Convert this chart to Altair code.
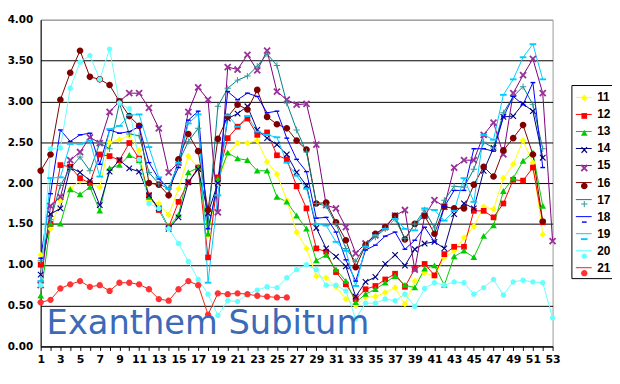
import altair as alt
import pandas as pd

weeks = list(range(1, 54))
label_weeks = list(range(1, 54, 2))
minor_weeks = list(range(2, 53, 2))
series_names = ["11", "12", "13", "14", "15", "16", "17", "18", "19", "20", "21"]
chart_title = "Exanthem Subitum"
y_ticks = [0, 0.5, 1.0, 1.5, 2.0, 2.5, 3.0, 3.5, 4.0]

s11 = [1.12, 1.44, 1.78, 1.93, 2.03, 2.00, 1.95, 2.50, 2.53, 2.58, 2.40, 1.78, 1.75, 1.61, 1.93, 2.33, 2.19, 1.36, 2.00, 2.36,
       2.49, 2.49, 2.52, 2.26, 2.11, 1.79, 1.40, 1.20, 0.86, 0.84, 0.73, 0.58, 0.50, 0.60, 0.61, 0.66, 0.72, 0.52, 0.80, 0.90,
       0.86, 1.09, 1.17, 1.33, 1.47, 1.71, 1.68, 2.06, 2.23, 2.52, 2.25, 1.37, None]
s12 = [1.00, 1.50, 2.22, 2.20, 2.06, 2.00, 2.35, 2.33, 2.28, 2.49, 2.30, 1.85, 1.67, 1.46, 1.77, 2.01, 2.19, 1.09, 2.07, 2.55,
       2.69, 2.79, 2.59, 2.62, 2.34, 2.29, 1.96, 1.69, 1.20, 1.16, 0.91, 0.76, 0.58, 0.70, 0.74, 0.82, 0.89, 0.73, 0.95, 1.01,
       0.87, 1.13, 1.22, 1.22, 1.66, 1.66, 1.58, 1.75, 2.04, 2.03, 2.19, 1.52, None]
s13 = [0.62, 1.50, 1.50, 1.92, 1.86, 1.95, 1.66, 2.18, 2.22, 2.34, 2.28, 1.83, 1.69, 1.46, 1.61, 2.13, 2.19, 1.38, 2.05, 2.37,
       2.30, 2.28, 2.15, 2.15, 1.83, 1.77, 1.60, 1.44, 1.05, 1.12, 0.94, 0.80, 0.54, 0.64, 0.70, 0.78, 0.86, 0.75, 0.72, 0.95,
       0.99, 0.75, 1.10, 1.17, 1.09, 1.35, 1.48, 1.90, 2.06, 2.27, 2.37, 1.72, None]
s14 = [0.88, 1.62, 1.69, 2.19, 2.13, 2.03, 1.73, 2.14, 2.28, 2.18, 2.14, 1.85, 1.69, 1.44, 1.58, 2.01, 2.17, 1.63, 2.00, 2.79,
       2.85, 2.94, 2.65, 2.55, 2.47, 2.35, 2.13, 1.97, 1.45, 1.20, 1.10, 0.98, 0.61, 0.79, 0.85, 1.01, 1.12, 0.99, 1.19, 1.26,
       1.28, 1.20, 1.62, 1.75, 1.69, 2.15, 2.43, 2.81, 2.82, 2.97, 2.88, 2.31, None]
s15 = [0.75, 1.72, 1.83, 2.28, 2.38, 2.56, 2.49, 2.87, 3.00, 3.10, 3.10, 2.92, 2.67, 2.13, 2.25, 2.87, 3.17, 3.02, 1.64, 3.42,
       3.39, 3.57, 3.38, 3.62, 3.12, 3.02, 2.96, 2.97, 2.47, 1.73, 1.69, 1.46, 1.14, 1.26, 1.36, 1.46, 1.60, 1.67, 0.94, 1.60,
       1.79, 1.71, 2.19, 2.28, 2.28, 2.59, 2.74, 2.35, 3.10, 3.32, 3.52, 3.10, 1.29]
s16 = [2.15, 2.35, 3.02, 3.35, 3.62, 3.30, 3.27, 3.20, 3.00, 2.82, 2.70, 2.00, 1.98, 1.85, 2.29, 2.60, 2.39, 1.67, 2.54, 2.81,
       2.96, 2.90, 3.14, 2.81, 2.72, 2.67, 2.52, 2.41, 1.75, 1.76, 1.52, 1.30, 0.97, 1.24, 1.38, 1.46, 1.60, 1.31, 1.50, 1.60,
       1.38, 1.71, 1.69, 1.69, 1.98, 2.20, 2.08, 2.40, 2.55, 2.71, 2.35, 1.53, None]
s17 = [1.05, 1.55, 1.97, 2.18, 2.32, 2.15, 2.49, 2.42, 2.98, 2.60, 2.58, 2.13, 1.99, 1.93, 2.25, 2.51, 2.67, 1.50, 2.94, 3.16,
       3.26, 3.31, 3.43, 3.58, 3.44, 2.98, 2.65, 2.38, 1.75, 1.72, 1.50, 1.20, 1.04, 1.24, 1.34, 1.44, 1.56, 1.32, 1.50, 1.67,
       1.45, 1.79, 1.96, 1.95, 2.17, 2.50, 2.43, 2.86, 3.06, 3.18, 2.96, 2.42, None]
s18 = [1.08, 1.87, 2.65, 2.51, 2.59, 2.61, 2.23, 2.65, 2.61, 2.63, 2.69, 2.25, 2.05, 1.93, 2.19, 2.77, 2.88, 1.44, 2.00, 3.12,
       3.02, 3.10, 3.06, 2.86, 2.88, 2.55, 2.29, 2.14, 1.57, 1.58, 1.40, 1.06, 0.80, 1.18, 1.24, 1.35, 1.40, 1.19, 1.30, 1.46,
       1.28, 1.71, 1.91, 1.91, 2.42, 2.42, 2.39, 2.81, 3.06, 2.96, 3.23, 2.19, None]
s19 = [0.80, 2.06, 2.07, 2.48, 2.48, 2.52, 2.08, 2.66, 2.70, 2.83, 2.84, 2.44, 2.07, 1.93, 2.25, 2.73, 2.84, 0.78, 1.85, 2.83,
       2.69, 2.82, 2.63, 2.59, 2.56, 2.25, 2.09, 1.93, 1.50, 1.48, 1.28, 1.17, 0.74, 1.22, 1.36, 1.44, 1.56, 1.44, 1.42, 1.69,
       1.67, 1.54, 1.66, 2.06, 1.77, 2.59, 2.53, 3.08, 3.27, 3.54, 3.70, 3.27, None]
s20 = [0.75, 2.42, 2.43, 3.16, 3.48, 3.56, 3.27, 3.64, 2.98, 2.91, 2.29, 1.75, 1.69, 1.44, 1.26, 1.04, 0.82, 0.64, 0.38, 0.56,
       0.55, 0.64, 0.69, 0.73, 0.72, 0.84, 0.94, 1.00, 0.94, 0.75, 0.75, 0.68, 0.34, 0.53, 0.53, 0.58, 0.56, 0.64, 0.49, 0.71,
       0.78, 0.75, 0.79, 0.78, 0.64, 0.72, 0.82, 0.63, 0.79, 0.81, 0.79, 0.78, 0.35]
s21 = [0.54, 0.57, 0.71, 0.76, 0.80, 0.73, 0.75, 0.68, 0.78, 0.78, 0.76, 0.70, 0.58, 0.56, 0.70, 0.80, 0.75, 0.39, 0.65, 0.64,
       0.65, 0.64, 0.62, 0.61, 0.60, 0.60]

all_series = [s11, s12, s13, s14, s15, s16, s17, s18, s19, s20, s21]

line_colors = ["#ffff00", "#ff0000", "#00cc00", "#000080", "#800080", "#800000",
               "#008080", "#0000ff", "#00ccff", "#66ffff", "#ee2211"]
line_widths = [1, 1, 1, 1, 1, 1, 1, 1, 1, 1, 3.5]
marker_fills = ["#ffff00", "#ff0000", "#00cc00", "#000080", "#993399", "#800000",
                "#339999", "#0000ff", "#00ccff", "#66ffff", "#ff3333"]
marker_paths = [
    "M0,-0.42L0.4,0L0,0.42L-0.4,0Z",
    "M-0.36,-0.36H0.36V0.36H-0.36Z",
    "M0,-0.4L0.42,0.34L-0.42,0.34Z",
    "M-0.3,-0.4L0.4,0.3L0.3,0.4L-0.4,-0.3Z M0.3,-0.4L0.4,-0.3L-0.3,0.4L-0.4,0.3Z",
    "M-0.3,-0.46L0.46,0.3L0.3,0.46L-0.46,-0.3Z M0.3,-0.46L0.46,-0.3L-0.3,0.46L-0.46,0.3Z",
    "M0.42,0A0.42,0.42,0,1,1,-0.42,0A0.42,0.42,0,1,1,0.42,0Z",
    "M-0.4,-0.06H0.4V0.06H-0.4Z M-0.06,-0.4H0.06V0.4H-0.06Z",
    "M-0.3,-0.09H0.3V0.09H-0.3Z",
    "M-0.42,-0.12H0.42V0.12H-0.42Z",
    "M0.34,0A0.34,0.34,0,1,1,-0.34,0A0.34,0.34,0,1,1,0.34,0Z",
    "M0.4,0A0.4,0.4,0,1,1,-0.4,0A0.4,0.4,0,1,1,0.4,0Z",
]
marker_names = ["m" + s for s in series_names]

rows = []
for name, mname, vals in zip(series_names, marker_names, all_series):
    for w, v in zip(weeks, vals):
        if v is not None:
            rows.append({"week": w, "value": v, "series": name, "mseries": mname})
df = pd.DataFrame(rows)

x_scale = alt.Scale(domain=[1, 53], nice=False, zero=False)
y_scale = alt.Scale(domain=[0, 4], nice=False)

x_axis = alt.Axis(values=label_weeks, orient="bottom",
                  labelFont="DejaVu Sans", labelFontWeight="bold", labelFontSize=11,
                  labelColor="black", tickColor="black", tickSize=4, domainColor="black",
                  grid=False, title=None, labelPadding=3, labelOverlap=False, labelFlush=False)
x_minor_axis = alt.Axis(values=minor_weeks, orient="bottom", labels=False, domain=False,
                        tickColor="black", tickSize=4, grid=False, title=None)
y_axis = alt.Axis(values=y_ticks, format=".2f", grid=True,
                  gridColor=alt.condition("datum.value == 4", alt.value("#999999"), alt.value("black")),
                  gridWidth=1, ticks=False, tickSize=0, domainColor="black", labelPadding=8,
                  labelFont="DejaVu Sans", labelFontWeight="bold", labelFontSize=10.5,
                  labelColor="black", title=None)

legend_common = dict(orient="none", legendX=536, legendY=66, title=None, symbolSize=256,
                     rowPadding=2.2, padding=4, labelOffset=5, labelFont="Liberation Sans",
                     labelFontWeight="bold", labelFontSize=12, labelColor="black")

lines = alt.Chart(df).mark_line().encode(
    x=alt.X("week:Q", scale=x_scale, axis=x_axis),
    y=alt.Y("value:Q", scale=y_scale, axis=y_axis),
    stroke=alt.Stroke("series:N", scale=alt.Scale(domain=series_names, range=line_colors),
                      legend=alt.Legend(strokeColor="black", **legend_common)),
    strokeWidth=alt.StrokeWidth("series:N", scale=alt.Scale(domain=series_names, range=line_widths),
                                legend=alt.Legend(strokeColor="black", **legend_common)),
)

points = alt.Chart(df).mark_point(filled=True, opacity=1, size=256, strokeWidth=0).encode(
    x=alt.X("week:Q", scale=x_scale, axis=x_minor_axis),
    y=alt.Y("value:Q", scale=y_scale, axis=y_axis),
    fill=alt.Fill("mseries:N", scale=alt.Scale(domain=marker_names, range=marker_fills),
                  legend=alt.Legend(labelExpr="''", **legend_common)),
    shape=alt.Shape("mseries:N", scale=alt.Scale(domain=marker_names, range=marker_paths),
                    legend=alt.Legend(labelExpr="''", **legend_common)),
)

title_df = pd.DataFrame({"label": [chart_title]})
title_text = alt.Chart(title_df).mark_text(
    align="left", baseline="alphabetic", font="DejaVu Sans", fontSize=34, color="#3a6ab8"
).encode(x=alt.value(6), y=alt.value(317), text="label:N")

chart = alt.layer(lines, points, title_text).resolve_axis(x="independent").properties(
    width=517, height=330,
    autosize=alt.AutoSizeParams(type="none"),
    padding={"left": 33, "top": 10, "right": 60, "bottom": 22},
).configure_view(stroke="#999999", strokeWidth=1)

chart.save("out.html", embed_options={"renderer": "svg", "actions": False})
